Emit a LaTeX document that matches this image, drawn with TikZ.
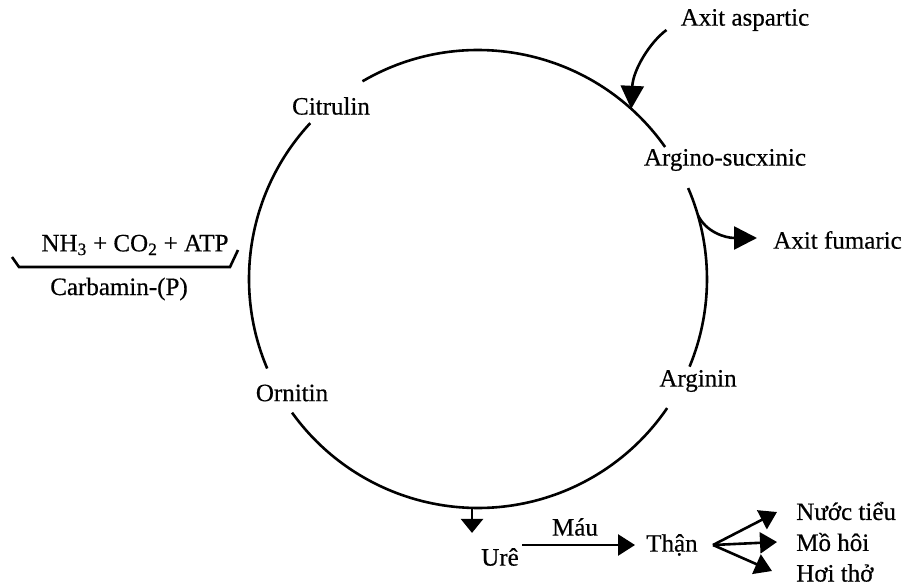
\documentclass[tikz,border=0pt]{standalone}
\usepackage{fontspec}
\setmainfont{Liberation Serif}
\newfontfamily\lblfont{Liberation Serif}[FakeBold=0.5]
\usetikzlibrary{arrows.meta}
\begin{document}
\begin{tikzpicture}[x=1pt,y=-1pt,line width=2.6pt,
  lbl/.style={font=\fontsize{25}{30}\lblfont,inner sep=0pt},
  bigarr/.style={-{Triangle[length=23pt,width=23pt]}},
  medarr/.style={-{Triangle[length=17pt,width=21pt]}},
  smallarr/.style={-{Triangle[length=14pt,width=22pt]}}]
\useasboundingbox (0,0) rectangle (906,587);
\coordinate (C) at (478,279);
% labels
\node[lbl] (cit) at (331,106) {Citrulin};
\node[lbl] (arg) at (725,160) {Argino-sucxinic};
\node[lbl] (asp) at (745,20) {Axit aspartic};
\node[lbl,anchor=west] (fum) at (772,240) {Axit fumaric};
\node[lbl] (argn) at (698,381) {Arginin};
\node[lbl] (orn) at (292,393) {Ornitin};
\node[lbl] (nh) at (135,245) {NH\textsubscript{3} + CO\textsubscript{2} + ATP};
\node[lbl] (carb) at (119,289) {Carbamin-(P)};
\node[lbl] (ure) at (500,557) {Urê};
\node[lbl] (than) at (672,545) {Thận};
\node[lbl,anchor=west] (nuoc) at (795,511) {Nước tiểu};
\node[lbl,anchor=west] (mo) at (795,542) {Mồ hôi};
\node[lbl,anchor=west] (hoi) at (795,573) {Hơi thở};
% cycle arcs
\draw ([shift={(-120.3:229)}]C) arc[start angle=-120.3,end angle=-35.2,radius=229];
\draw ([shift={(-23.4:229)}]C) arc[start angle=-23.4,end angle=22.5,radius=229];
\draw ([shift={(34.3:229)}]C) arc[start angle=34.3,end angle=144.3,radius=229];
\draw ([shift={(157:229)}]C) arc[start angle=157,end angle=222.9,radius=229];
% aspartic in
\coordinate (asptip) at ([shift={(-48:229)}]C);
\coordinate (aspstart) at ([shift={(-13,10)}]asp.west);
\draw[bigarr] (aspstart) .. controls (650,42) and (633,70) .. (asptip);
% fumaric out
\coordinate (fumstart) at ([shift={(-16.2:229)}]C);
\coordinate (fumtip) at ([shift={(-15,-2)}]fum.west);
\draw[bigarr] (fumstart) .. controls (706,232) and (725,238) .. (fumtip);
% NH3 bracket
\draw (12,257) -- (19,267) -- (230,267) -- (238,250);
% urea
\coordinate (bot) at ([shift={(91.5:229)}]C);
\draw[smallarr] (bot) -- ++(0,25);
\draw[medarr] ([xshift=2pt]ure.east |- than.west) -- ([xshift=-10pt]than.west);
\node[lbl] (mau) at (575,527) {Máu};
% kidney outputs
\coordinate (br) at ([xshift=41pt]than.center);
\draw[medarr] (br) -- ([shift={(-18,1)}]nuoc.west);
\draw[medarr] (br) -- ([shift={(-18,0)}]mo.west);
\draw[medarr] (br) -- ([shift={(-23,-2)}]hoi.west);
\end{tikzpicture}
\end{document}
